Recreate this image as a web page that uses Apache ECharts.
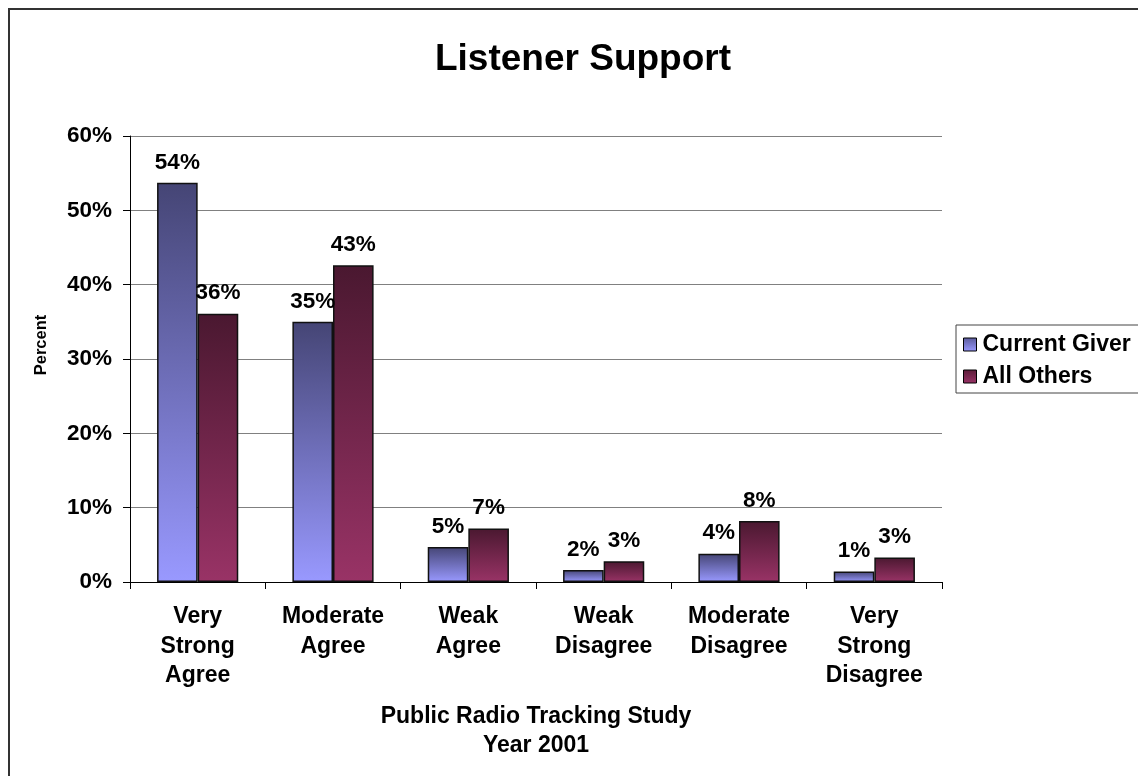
<!DOCTYPE html>
<html>
<head>
<meta charset="utf-8">
<title>Listener Support</title>
<script src="https://cdn.jsdelivr.net/npm/echarts@6/dist/echarts.min.js"></script>
<style>
  html, body { margin: 0; padding: 0; background: #fff; }
  #chart { width: 1138px; height: 776px; }
</style>
</head>
<body>
<div id="chart"></div>
<script>
// Survey response categories (x axis)
const categories = [
  'Very\nStrong\nAgree',
  'Moderate\nAgree',
  'Weak\nAgree',
  'Weak\nDisagree',
  'Moderate\nDisagree',
  'Very\nStrong\nDisagree'
];

// Share of respondents, in percent
const currentGiver = [53.7, 35.0, 4.7, 1.6, 3.8, 1.4];
const allOthers    = [36.1, 42.6, 7.2, 2.8, 8.2, 3.3];

// Value axis ticks
const yMin = 0, yMax = 60, yStep = 10;

const FONT = '"Liberation Sans", Arial, sans-serif';

function grad(top, bottom) {
  return new echarts.graphic.LinearGradient(0, 0, 0, 1, [
    { offset: 0, color: top },
    { offset: 1, color: bottom }
  ]);
}

const chart = echarts.init(document.getElementById('chart'), null, { renderer: 'canvas' });

const labelStyle = {
  show: true,
  position: 'top',
  distance: 9,
  fontFamily: FONT,
  fontWeight: 'bold',
  fontSize: 22.5,
  color: '#000',
  formatter: p => Math.round(p.value) + '%'
};

chart.setOption({
  backgroundColor: '#fff',
  animation: false,
  title: {
    text: 'Listener Support',
    left: 578,
    textAlign: 'center',
    top: 36,
    textStyle: { fontFamily: FONT, fontWeight: 'bold', fontSize: 37, color: '#000' }
  },
  graphic: [{
    type: 'rect',
    shape: { x: 9, y: 9, width: 1150, height: 800 },
    style: { fill: 'none', stroke: '#333', lineWidth: 2 },
    silent: true
  }],
  legend: {
    orient: 'vertical',
    left: 956,
    top: 325,
    padding: [8, 20, 5, 7],
    itemGap: 9,
    itemWidth: 13,
    itemHeight: 13,
    borderColor: '#444',
    borderWidth: 1,
    icon: 'rect',
    textStyle: { fontFamily: FONT, fontWeight: 'bold', fontSize: 23, color: '#000', padding: [0, 0, 0, 1] },
    data: [
      { name: 'Current Giver', itemStyle: { color: grad('#5a5a99', '#9999ff'), borderColor: '#000', borderWidth: 1 } },
      { name: 'All Others', itemStyle: { color: grad('#5a1c38', '#993366'), borderColor: '#000', borderWidth: 1 } }
    ]
  },
  grid: { left: 130, right: 196, top: 136, bottom: 194, containLabel: false },
  xAxis: {
    type: 'category',
    data: categories,
    boundaryGap: true,
    name: 'Public Radio Tracking Study\nYear 2001',
    nameLocation: 'middle',
    nameGap: 120,
    nameTextStyle: { fontFamily: FONT, fontWeight: 'bold', fontSize: 23, color: '#000', lineHeight: 29 },
    axisLine: { show: true, lineStyle: { color: '#000', width: 1 } },
    axisTick: { show: true, interval: 0, length: 7, lineStyle: { color: '#000' } },
    axisLabel: {
      interval: 0,
      margin: 20,
      fontFamily: FONT,
      fontWeight: 'bold',
      fontSize: 23,
      lineHeight: 29.5,
      color: '#000'
    },
    splitLine: { show: false }
  },
  yAxis: {
    type: 'value',
    min: yMin,
    max: yMax,
    interval: yStep,
    name: 'Percent',
    nameLocation: 'middle',
    nameRotate: 90,
    nameGap: 80,
    nameTextStyle: { fontFamily: FONT, fontWeight: 'bold', fontSize: 16.5, color: '#000', padding: [0, 0, 0, 28] },
    axisLine: { show: true, lineStyle: { color: '#000', width: 1 } },
    axisTick: { show: true, length: 7, lineStyle: { color: '#000' } },
    axisLabel: {
      margin: 18,
      formatter: '{value}%',
      fontFamily: FONT,
      fontWeight: 'bold',
      fontSize: 22.5,
      color: '#000'
    },
    splitLine: { show: true, lineStyle: { color: '#808080', width: 1 } }
  },
  series: [
    {
      name: 'Current Giver',
      type: 'bar',
      data: currentGiver,
      barGap: '0%',
      barCategoryGap: '40%',
      itemStyle: { color: grad('#454575', '#9999ff'), borderColor: '#111', borderWidth: 1.5 },
      label: labelStyle
    },
    {
      name: 'All Others',
      type: 'bar',
      data: allOthers,
      itemStyle: { color: grad('#4a1830', '#993366'), borderColor: '#111', borderWidth: 1.5 },
      label: labelStyle
    }
  ]
});
</script>
</body>
</html>
